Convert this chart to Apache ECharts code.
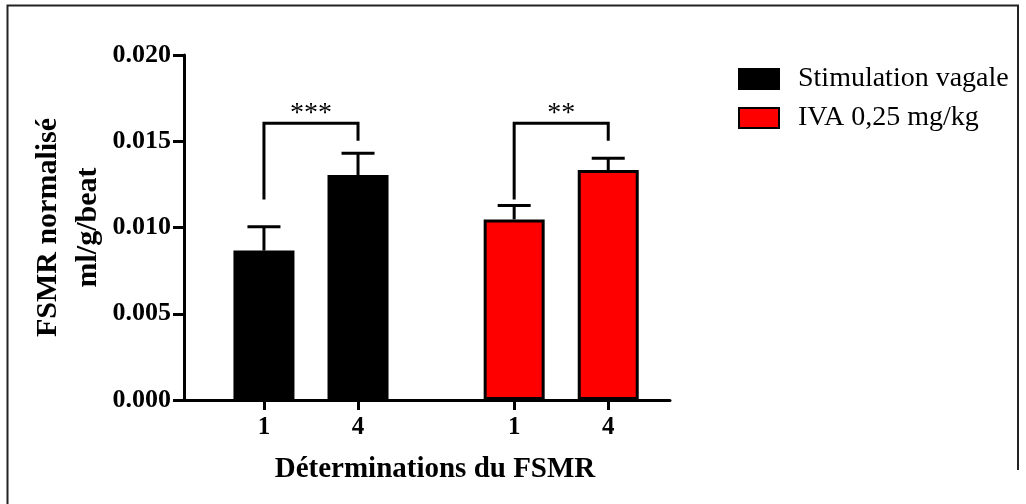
<!DOCTYPE html>
<html>
<head>
<meta charset="utf-8">
<script src="https://cdn.jsdelivr.net/npm/echarts@6/dist/echarts.min.js"></script>
<style>html,body{margin:0;padding:0;background:#fff}#c{width:1026px;height:504px}</style>
</head>
<body>
<div id="c"></div>
<script>
// ---- data ----
const groups = ['Stimulation vagale', 'IVA 0,25 mg/kg'];
const determinations = ['1', '4'];
const vagalMean = [0.00866, 0.01304];
const vagalSem = [0.00139, 0.00127];
const ivaMean = [0.01047, 0.01333];
const ivaSem = [0.00081, 0.00068];
const yTicks = [0, 0.005, 0.010, 0.015, 0.020];
const sigLabels = ['***', '**'];
const bracketTop = [0.01604, 0.01604];
const bracketLeftEnd = [0.01163, 0.01163];
const bracketRightEnd = [0.01503, 0.01503];

// ---- layout (axis units) ----
const X_MAX = 15.5;
const groupStart = [2.55, 10.53];
const step = 3;
const xPos = (g, i) => groupStart[g] + i * step;
const tickPositions = [];
const tickLabels = [];
groups.forEach((g, gi) => determinations.forEach((d, di) => { tickPositions.push(xPos(gi, di)); tickLabels.push(d); }));

const FONT = 'Liberation Serif, Times New Roman, serif';
const means = [vagalMean, ivaMean];
const sems = [vagalSem, ivaSem];
const colors = ['#000000', '#ff0000'];

const barSeries = groups.map((name, gi) => ({
  name: name,
  type: 'bar',
  barWidth: 61,
  barGap: '-100%',
  z: 2,
  itemStyle: { color: colors[gi], borderColor: '#000', borderWidth: 3 },
  data: determinations.map((d, di) => [xPos(gi, di), means[gi][di]])
}));

const errSeries = groups.map((name, gi) => ({
  type: 'custom',
  z: 3,
  silent: true,
  data: determinations.map((d, di) => [xPos(gi, di), means[gi][di], sems[gi][di]]),
  renderItem: function (params, api) {
    const x = api.value(0), m = api.value(1), s = api.value(2);
    const p0 = api.coord([x, m]);
    const p1 = api.coord([x, m + s]);
    const st = { stroke: '#000', lineWidth: 3, fill: null };
    return {
      type: 'group',
      children: [
        { type: 'line', shape: { x1: p0[0], y1: p0[1], x2: p1[0], y2: p1[1] }, style: st },
        { type: 'line', shape: { x1: p1[0] - 16.5, y1: p1[1], x2: p1[0] + 16.5, y2: p1[1] }, style: st }
      ]
    };
  }
}));

const bracketSeries = {
  type: 'custom',
  z: 4,
  silent: true,
  data: groups.map((g, gi) => [xPos(gi, 0), xPos(gi, 1), bracketTop[gi], bracketLeftEnd[gi], bracketRightEnd[gi], gi]),
  renderItem: function (params, api) {
    const x1 = api.value(0), x2 = api.value(1), top = api.value(2), le = api.value(3), re = api.value(4);
    const a = api.coord([x1, le]), b = api.coord([x1, top]), c = api.coord([x2, top]), d = api.coord([x2, re]);
    return {
      type: 'group',
      children: [
        { type: 'polyline', shape: { points: [a, b, c, d] }, style: { stroke: '#000', lineWidth: 3, fill: null, lineJoin: 'miter' } },
        { type: 'text', x: (b[0] + c[0]) / 2, y: b[1] - 10,
          style: { text: sigLabels[params.dataIndex], font: '28px ' + FONT, fill: '#000', align: 'center', verticalAlign: 'middle' } }
      ]
    };
  }
};

const chart = echarts.init(document.getElementById('c'), null, { renderer: 'canvas' });
chart.setOption({
  animation: false,
  backgroundColor: '#fff',
  grid: { left: 184, top: 55, width: 486, height: 345 },
  legend: {
    orient: 'vertical',
    left: 733,
    top: 60,
    itemWidth: 40,
    itemHeight: 20,
    itemGap: 11,
    icon: 'rect',
    data: groups,
    textStyle: { fontFamily: FONT, fontSize: 28, color: '#000', padding: [0, 0, 0, 14] }
  },
  xAxis: {
    type: 'value',
    min: 0,
    max: X_MAX,
    splitLine: { show: false },
    axisLine: { onZero: false, lineStyle: { color: '#000', width: 3 } },
    axisTick: { customValues: tickPositions, length: 10, lineStyle: { color: '#000', width: 3 } },
    axisLabel: {
      customValues: tickPositions,
      formatter: function (v) {
        let best = 0;
        tickPositions.forEach((p, i) => { if (Math.abs(p - v) < Math.abs(tickPositions[best] - v)) best = i; });
        return tickLabels[best];
      },
      fontFamily: FONT, fontWeight: 'bold', fontSize: 25, color: '#000', margin: 15
    },
    name: 'Déterminations du FSMR',
    nameLocation: 'middle',
    nameGap: 55,
    nameTextStyle: { fontFamily: FONT, fontWeight: 'bold', fontSize: 29, color: '#000', padding: [0, 0, 0, 16] }
  },
  yAxis: {
    type: 'value',
    min: 0,
    max: 0.02,
    interval: 0.005,
    splitLine: { show: false },
    axisLine: { show: true, lineStyle: { color: '#000', width: 3 } },
    axisTick: { show: true, customValues: yTicks, length: 11, lineStyle: { color: '#000', width: 3 } },
    axisLabel: {
      customValues: yTicks,
      formatter: v => v.toFixed(3),
      fontFamily: FONT, fontWeight: 'bold', fontSize: 26, color: '#000', margin: 13
    },
    name: 'FSMR normalisé\nml/g/beat',
    nameLocation: 'middle',
    nameRotate: 90,
    nameGap: 75,
    nameTextStyle: { fontFamily: FONT, fontWeight: 'bold', fontSize: 30, lineHeight: 40, color: '#000' }
  },
  graphic: [
    { type: 'polyline', silent: true, shape: { points: [[7.5, 504], [7.5, 5.5], [1018, 5.5], [1018, 470]] },
      style: { fill: null, stroke: '#222', lineWidth: 2 } }
  ],
  series: [...barSeries, ...errSeries, bracketSeries]
});
</script>
</body>
</html>
